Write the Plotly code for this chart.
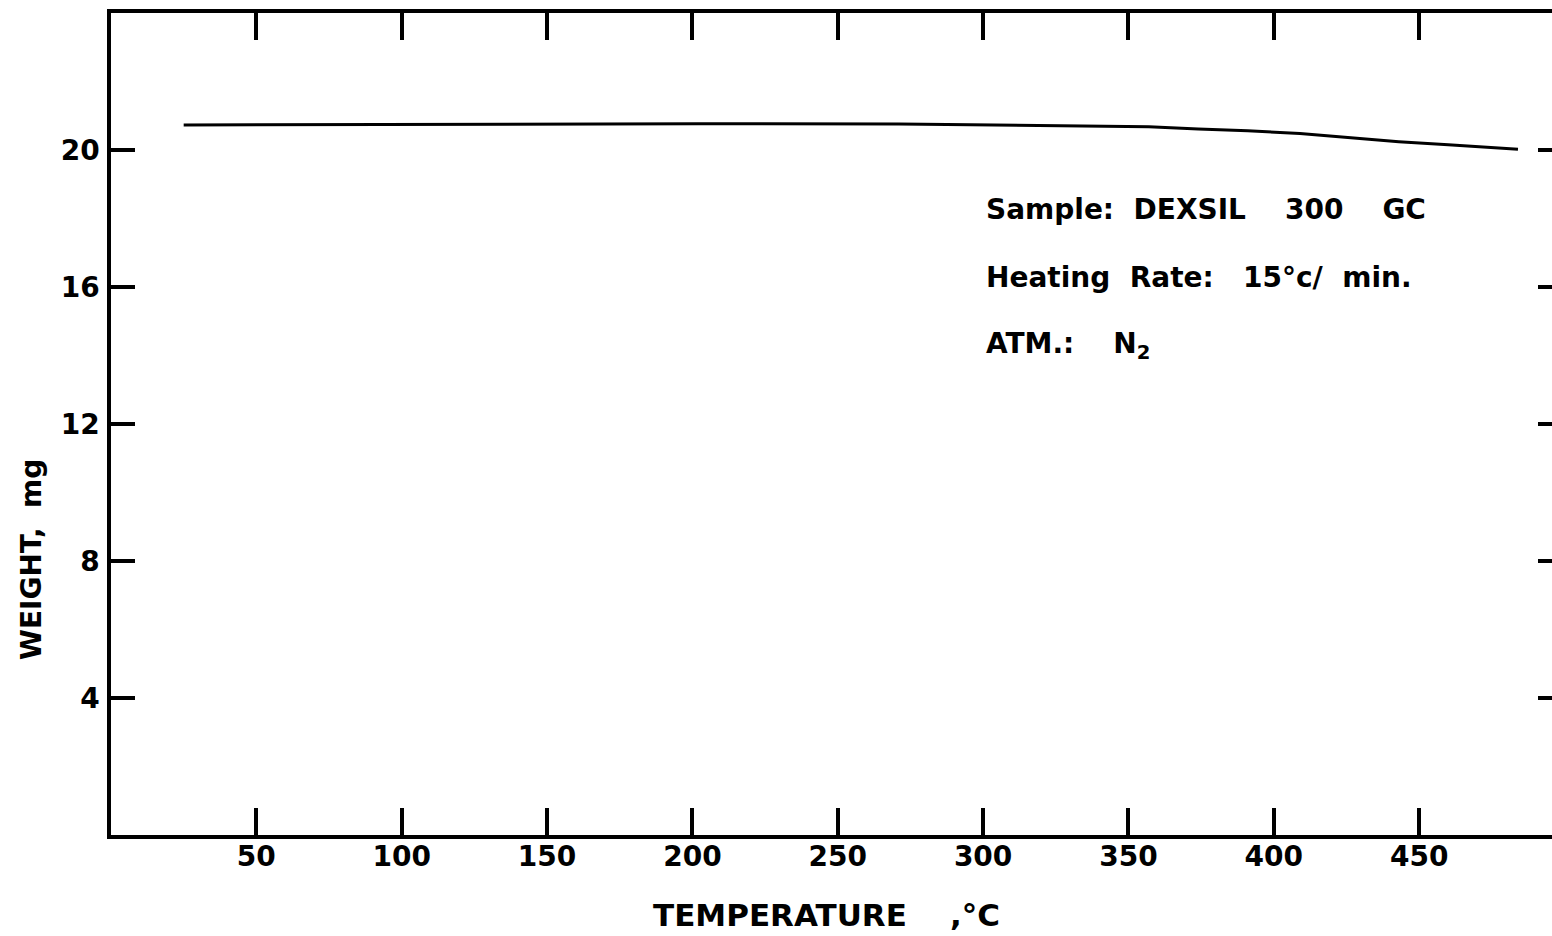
import plotly.graph_objects as go

# Data (TGA curve)
temperature_c = [25, 99, 202, 271, 305, 340, 357, 374, 391, 409, 426, 443, 460, 484]
weight_mg = [20.73, 20.75, 20.77, 20.76, 20.73, 20.70, 20.68, 20.61, 20.56, 20.48,
             20.35, 20.24, 20.15, 20.02]

x_ticks = [50, 100, 150, 200, 250, 300, 350, 400, 450]
x_tick_labels = ["50", "100", "150", "200", "250", "300", "350", "400", "450"]
y_ticks = [4, 8, 12, 16, 20]
y_tick_labels = ["4", "8", "12", "16", "20"]

info_lines = ["Sample:  DEXSIL    300    GC",
              "Heating  Rate:   15°c/  min.",
              "ATM.:    N<sub>2</sub>"]
info_y = [18.25, 16.29, 14.3]

FONT = "DejaVu Sans"
INK = "#000000"

# plot-area geometry in pixels
L, R, T, B = 111, 0, 13, 101
W, H = 1552, 936

fig = go.Figure()
fig.add_trace(go.Scatter(x=temperature_c, y=weight_mg, mode="lines",
                         line=dict(color=INK, width=3), showlegend=False))
# invisible trace to host right-side ticks
fig.add_trace(go.Scatter(x=[temperature_c[0]], y=[weight_mg[0]], yaxis="y2",
                         mode="markers", marker=dict(opacity=0), showlegend=False,
                         hoverinfo="skip"))

fig.update_layout(
    width=W, height=H,
    margin=dict(l=L, r=R, t=T, b=B),
    paper_bgcolor="white", plot_bgcolor="white",
    font=dict(family=FONT, color=INK, size=28, weight="bold"),
    xaxis=dict(range=[0, 495.7], tickvals=x_ticks, ticktext=x_tick_labels,
               showline=True, linecolor=INK, linewidth=3.5, mirror="ticks",
               ticks="inside", ticklen=27, tickwidth=3.5, tickcolor=INK,
               showgrid=False, zeroline=False, ticklabelstandoff=-6,
               tickfont=dict(size=28, family=FONT, weight="bold")),
    yaxis=dict(range=[0, 24], tickvals=y_ticks, ticktext=y_tick_labels,
               showline=True, linecolor=INK, linewidth=3.5, mirror=False,
               ticks="inside", ticklen=24, tickwidth=3.5, tickcolor=INK,
               showgrid=False, zeroline=False, ticklabelstandoff=2,
               tickfont=dict(size=28, family=FONT, weight="bold")),
    yaxis2=dict(range=[0, 24], tickvals=y_ticks, overlaying="y", side="right",
                showline=False, ticks="inside", ticklen=14, tickwidth=3.5,
                tickcolor=INK, showticklabels=False, showgrid=False,
                zeroline=False),
)

for txt, yy in zip(info_lines, info_y):
    fig.add_annotation(x=300.3, y=yy, xref="x", yref="y", text=txt,
                       showarrow=False, xanchor="left", yanchor="middle",
                       font=dict(size=28, family=FONT, weight="bold"))

pw = W - L - R
ph = H - T - B


def px_to_paper(px, py):
    return (px - L) / pw, (H - B - py) / ph


ax, ay = px_to_paper(826, 915)
fig.add_annotation(x=ax, y=ay, xref="paper", yref="paper", text="TEMPERATURE    ,°C",
                   showarrow=False, xanchor="center", yanchor="middle",
                   font=dict(size=31, family=FONT, weight="bold"))
bx, by = px_to_paper(31, 560)
fig.add_annotation(x=bx, y=by, xref="paper", yref="paper", text="WEIGHT,  mg",
                   showarrow=False, textangle=-90, xanchor="center", yanchor="middle",
                   font=dict(size=28, family=FONT, weight="bold"))

fig.write_html("out.html")
